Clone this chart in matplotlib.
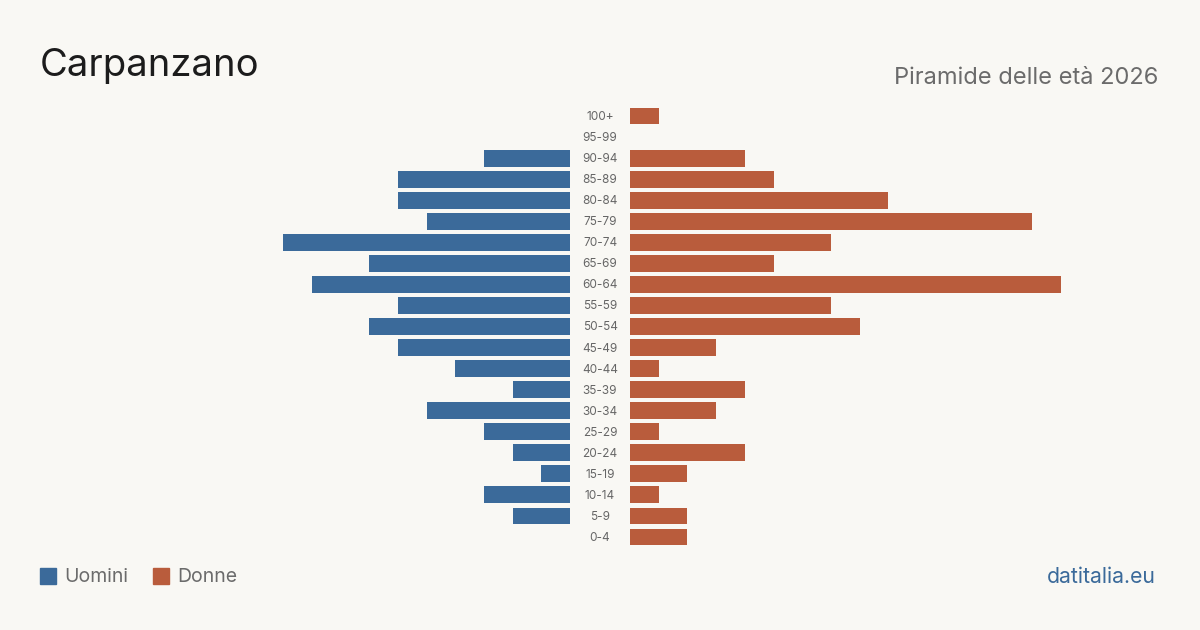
import matplotlib
matplotlib.use("Agg")
import matplotlib.pyplot as plt
from matplotlib.patches import Rectangle

# Dati: piramide delle età, Carpanzano 2026
AGE_GROUPS = ["0-4", "5-9", "10-14", "15-19", "20-24", "25-29", "30-34",
              "35-39", "40-44", "45-49", "50-54", "55-59", "60-64", "65-69",
              "70-74", "75-79", "80-84", "85-89", "90-94", "95-99", "100+"]
MEN = [0, 2, 3, 1, 2, 3, 5, 2, 4, 6, 7, 6, 9, 7, 10, 5, 6, 6, 3, 0, 0]
WOMEN = [2, 2, 1, 2, 4, 1, 3, 4, 1, 3, 8, 7, 15, 5, 7, 14, 9, 5, 4, 0, 1]

BG = "#f9f8f4"
BLUE = "#3b6a9a"
ORANGE = "#b95c3c"
FONT = ["Inter", "DejaVu Sans"]

W, H = 1200, 630
XMAX = 16
UNIT = 28.7  # px per persona

fig = plt.figure(figsize=(W / 100, H / 100), dpi=100)
fig.patch.set_facecolor(BG)

y_bottom = (H - 547.5) / H
y_height = (547.5 - 105.5) / H
span = XMAX * UNIT

ax_l = fig.add_axes([(570 - span) / W, y_bottom, span / W, y_height])
ax_r = fig.add_axes([630 / W, y_bottom, span / W, y_height])

ys = list(range(len(AGE_GROUPS)))
ax_l.barh(ys, MEN, height=0.8, color=BLUE)
ax_r.barh(ys, WOMEN, height=0.8, color=ORANGE)

for ax in (ax_l, ax_r):
    ax.set_facecolor("none")
    ax.set_ylim(-0.5, len(AGE_GROUPS) - 0.5)
    ax.axis("off")
ax_l.set_xlim(XMAX, 0)
ax_r.set_xlim(0, XMAX)

# etichette delle classi d'età al centro (30 px a sinistra delle barre femminili)
for y, lab in zip(ys, AGE_GROUPS):
    ax_r.annotate(lab, xy=(0, y), xytext=(-30 * 0.72, -0.7),
                  textcoords="offset points", ha="center", va="center",
                  fontsize=8.5, color="#666666", family=FONT,
                  annotation_clip=False)

fig.text(40 / W, 1 - 66 / H, "Carpanzano", fontsize=27.5, color="#1c1c1c",
         family=FONT, ha="left", va="center")
fig.text(1158 / W, 1 - 77.5 / H, "Piramide delle età 2026", fontsize=17,
         color="#6b6b6b", family=FONT, ha="right", va="center")

# legenda
fig.patches.append(Rectangle((40 / W, 1 - 584 / H), 16 / W, 16 / H,
                             transform=fig.transFigure, color=BLUE))
fig.text(64 / W, 1 - 577 / H, "Uomini", fontsize=14, color="#6b6b6b",
         family=FONT, ha="left", va="center")
fig.patches.append(Rectangle((153 / W, 1 - 584 / H), 16 / W, 16 / H,
                             transform=fig.transFigure, color=ORANGE))
fig.text(177 / W, 1 - 577 / H, "Donne", fontsize=14, color="#6b6b6b",
         family=FONT, ha="left", va="center")

fig.text(1156 / W, 1 - 577 / H, "datitalia.eu", fontsize=15.3, color=BLUE,
         family=FONT, ha="right", va="center")

fig.savefig("out.png", dpi=100, facecolor=BG)
